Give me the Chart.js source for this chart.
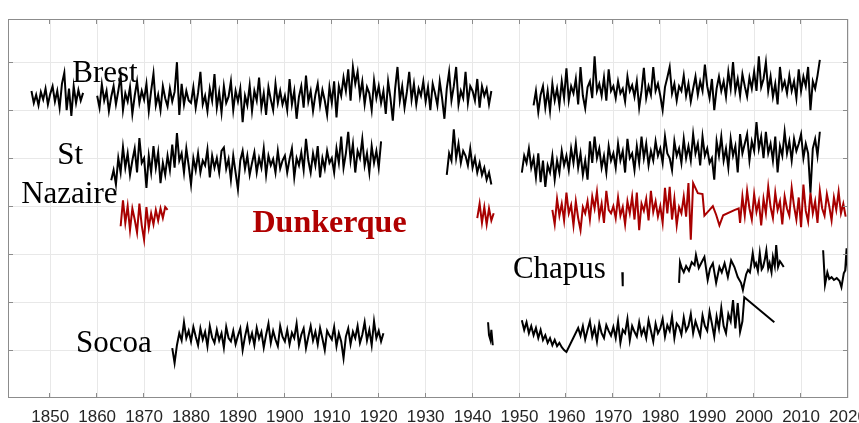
<!DOCTYPE html>
<html>
<head>
<meta charset="utf-8">
<script src="https://cdn.jsdelivr.net/npm/chart.js@4/dist/chart.umd.min.js"></script>
<style>
  html, body { margin: 0; padding: 0; background: #ffffff; }
  #wrap { width: 859px; height: 423px; position: relative; }
</style>
</head>
<body>
<div id="wrap"><canvas id="c"></canvas></div>
<script>
// ---- Axis ticks ----
const yearTicks = [1850, 1860, 1870, 1880, 1890, 1900, 1910, 1920, 1930, 1940, 1950, 1960, 1970, 1980, 1990, 2000, 2010, 2020];
const levelTicks = [100, 200, 300, 400, 500, 600, 700];

// ---- Station labels ----
const labelTexts  = ['Brest', 'St', 'Nazaire', 'Dunkerque', 'Chapus', 'Socoa'];
const labelYears  = [1854.7, 1851.5, 1843.8, 1893.1, 1948.6, 1855.5];
const labelLevels = [658, 487, 406, 346, 250, 96];
const labelRed    = [false, false, false, true, false, false];

// ---- Series values (offset levels, half-year steps from the start year) ----
const brest1846 = [640,615,632,610,638,622,645,612,634,650,618,640,605,655,678,600,645,588,650,615,642,620,636];
const brest1860 = [
  630,605,654,620,640,598,628,650,612,640,672,600,635,618,648,592,630,660,615,640,
  622,655,598,640,676,610,632,600,650,625,608,645,618,638,700,590,655,612,640,620,
  615,648,605,636,680,612,630,598,645,620,675,605,638,595,650,615,628,660,600,640,
  618,645,575,630,610,652,598,640,620,668,605,635,590,648,622,600,655,615,640,612,
  630,600,665,612,640,582,628,650,605,672,618,640,598,632,655,610,642,620,590,648,
  615,660,585,650,630,668,640,685,620,690,655,680,630,660,612,648,635,600,662,625,
  650,615,640,592,660,625,578,645,690,620,650,605,638,680,622,655,612,645,630,660,
  618,648,600,655,635,610,660,625,582,645,680,620,650,690,612,640,625,680,615,650,
  640,620,665,605,650,630,645,612,640];
const brest1953 = [
  610,640,596,632,650,605,640,598,655,620,645,610,660,625,
  687,620,650,635,665,612,690,630,604,648,660,625,712,640,655,630,668,620,685,640,
  650,625,660,635,645,618,670,640,652,628,660,605,640,688,625,650,632,690,640,655,
  630,600,648,668,690,635,655,620,650,640,672,630,655,618,645,670,632,660,640,695,
  650,625,665,600,645,670,640,660,628,680,645,700,640,665,630,675,650,628,668,645,
  680,640,712,648,665,700,640,670,628,655,612,690,645,660,635,672,640,660,625,685,
  640,670,650,690,600,660,645,672,705];

const nazaire1863 = [
  454,475,445,500,470,523,480,510,465,495,520,470,542,490,
  500,438,505,470,525,480,512,448,490,465,505,475,528,480,552,495,510,470,520,485,
  445,500,475,510,470,495,485,518,460,505,480,500,470,515,522,478,498,455,505,470,
  435,495,515,478,505,465,490,512,470,500,480,520,465,505,485,498,470,515,478,495,
  505,470,498,520,460,500,485,512,475,540,495,470,510,485,525,460,500,478,515,490,
  500,470,520,490,545,480,510,555,495,530,470,515,500,540,485,510,470,525,490,515,
  480,535];
const nazaire1934 = [465,510,495,560,500,530,490,515,505,485,520,480,500,470,490,465,480,455,470,445];
const nazaire1950 = [
  470,505,490,520,480,500,460,510,450,495,440,485,470,505,455,495,470,515,485,
  505,475,520,490,530,480,510,465,495,455,535,490,545,500,520,480,505,470,525,495,
  510,480,530,495,515,470,540,500,510,475,525,490,545,500,530,485,515,495,535,505,
  520,490,545,510,500,475,535,505,520,490,540,500,525,495,550,510,530,485,545,505,
  520,490,500,455,535,505,545,495,520,480,540,505,525,470,550,510,530,550,495,535,
  515,575,520,545,500,555,510,530,495,545,470,525,505,555,510,535,495,540,515,530,
  550,500,530,510,428,520,540,505,555];

const dunkerque1865 = [358,412,365,400,350,395,372,345,405,360,330,398,355,385,362,392,370,395,375,398,392];
const dunkerque1941 = [375,405,365,398,362,395,370,385];
const dunkerque1957 = [
  392,362,415,380,405,370,
  428,385,402,360,410,375,350,398,385,410,372,420,395,430,378,405,365,432,392,385,
  400,375,418,380,398,362,410,385,420,372,428,350,405,390,415,370,432,388,410,378,
  400,365,438,385,440,372,415,360,398,385,420,378,448,330,448];
const dunkerqueSparse = [[1988.0,427],[1989.0,425],[1989.4,380],[1990.5,392],[1991.2,400],[1991.9,382],[1992.6,360],[1993.4,381],[1995.9,392],[1996.7,395]];
const dunkerque1997 = [
  365,420,380,432,395,372,425,388,410,360,
  415,385,440,398,375,428,392,410,362,420,
  395,380,438,400,372,418,356,445,390,368,
  428,385,410,365,432,395,380,425,400,370,
  418,392,430,385,405,378];

const chapus1972 = [[1971.9,262],[1972.0,233]];
const chapus1984 = [[1984.0,240],[1984.2,283],[1984.6,270],[1985.0,262],[1985.5,275],[1986.1,265],[1986.7,283],[1987.3,277],[1987.6,298],[1988.2,271],[1988.7,281],[1989.4,294],[1990.1,246],[1990.6,270],[1991.2,281],[1991.9,240],[1992.6,273],[1993.1,262],[1993.7,281],[1994.4,252],[1995.1,287],[1995.8,273],[1996.5,252],[1997.2,240],[1997.6,225],[1997.9,240],[1998.3,258],[1998.7,267],[1999.1,262],[1999.4,281],[1999.7,302],[2000.1,275],[2000.4,281],[2000.8,265],[2001.2,302],[2001.6,268],[2001.9,273],[2002.3,290],[2002.6,308],[2003.0,270],[2003.3,281],[2003.7,262],[2004.0,294],[2004.4,275],[2004.7,319],[2005.1,273],[2005.5,285],[2005.8,281],[2006.3,273]];
const chapus2014 = [[2014.7,308],[2015.1,236],[2015.6,262],[2016.0,248],[2016.5,252],[2017.0,246],[2017.6,250],[2018.2,244],[2018.6,231],[2019.1,260],[2019.4,266],[2019.7,312],[2020.0,262]];

const socoa1876 = [
  104,73,110,135,120,158,125,140,
  118,148,128,110,145,122,138,108,150,126,115,142,120,135,105,148,125,118,140,112,
  130,145,100,128,150,118,135,110,146,124,138,105,132,155,115,140,122,108,150,128,
  118,142,112,136,125,155,110,132,145,104,128,150,120,138,112,146,124,100,140,130,
  122,148,108,135,118,83,128,145,112,138,125,150,115,132,158,120,142,110,160,125,
  140,118,135];
const socoa1943 = [[1943.3,158],[1943.5,131],[1943.8,121],[1944.0,142],[1944.3,110]];
const socoa1950 = [162,142,158,135,150,131,146,125,142,121,131,115,125,110,121,108,115,106,100,96];
const socoa1962 = [
  146,130,150,122,142,160,128,146,118,155,135,125,152,140,130,
  148,125,160,115,142,135,165,120,150,138,128,158,132,145,125,162,140,118,155,135,
  145,165,128,152,140,170,125,155,148,132,168,140,150,175,135,160,145,130,172,150,
  140,180,155,128,170,145,188,150,135,175,160,204,145,198,138,160];
const socoaTail = [[1997.9,210],[2004.3,158]];

// ---- Build point lists (runs separated by a null point) ----
function run(start, vals) { return vals.map((v, i) => ({ x: start + i * 0.5, y: v })); }
function pairs(arr) { return arr.map(p => ({ x: p[0], y: p[1] })); }
function series(...runs) {
  const out = [];
  runs.forEach((r, k) => {
    if (k > 0) out.push({ x: (out[out.length - 1].x + r[0].x) / 2, y: null });
    out.push(...r);
  });
  return out;
}

const brestData = series(run(1846, brest1846), run(1860, brest1860), run(1953, brest1953));
const nazaireData = series(run(1863, nazaire1863), run(1934.5, nazaire1934), run(1950.5, nazaire1950));
const dunkerqueData = series(run(1865, dunkerque1865), run(1941, dunkerque1941),
  [...run(1957, dunkerque1957), ...pairs(dunkerqueSparse), ...run(1997, dunkerque1997)]);
const chapusData = series(pairs(chapus1972), pairs(chapus1984), pairs(chapus2014));
const socoaData = series(run(1876, socoa1876), pairs(socoa1943),
  [...run(1950.5, socoa1950), ...run(1962.5, socoa1962), ...pairs(socoaTail)]);

const BLACK = '#000000';
const RED = '#a80000';
const FRAME = '#8c8c8c';

function ds(data, color) {
  return { data, borderColor: color, borderWidth: 2, pointRadius: 0, tension: 0, spanGaps: false, fill: false };
}

const decor = {
  id: 'decor',
  afterDatasetsDraw(chart) {
    const { ctx, chartArea: a, scales: { x, y } } = chart;
    ctx.save();
    ctx.textBaseline = 'alphabetic';
    ctx.textAlign = 'left';
    labelTexts.forEach((t, i) => {
      ctx.font = labelRed[i] ? 'bold 32px "Liberation Serif", "Times New Roman", serif' : '31px "Liberation Serif", "Times New Roman", serif';
      ctx.fillStyle = labelRed[i] ? '#b00000' : '#000000';
      ctx.fillText(t, x.getPixelForValue(labelYears[i]), y.getPixelForValue(labelLevels[i]));
    });
    ctx.strokeStyle = FRAME;
    ctx.lineWidth = 1;
    ctx.strokeRect(a.left + 0.5, a.top + 0.5, a.right - a.left - 1, a.bottom - a.top - 1);
    ctx.beginPath();
    yearTicks.forEach(v => {
      const px = Math.round(x.getPixelForValue(v)) - 0.5;
      ctx.moveTo(px, a.bottom); ctx.lineTo(px, a.bottom - 5);
      ctx.moveTo(px, a.top); ctx.lineTo(px, a.top + 5);
    });
    levelTicks.forEach(v => {
      const py = Math.round(y.getPixelForValue(v)) + 0.5;
      ctx.moveTo(a.left, py); ctx.lineTo(a.left + 5, py);
      ctx.moveTo(a.right, py); ctx.lineTo(a.right - 5, py);
    });
    ctx.stroke();
    ctx.restore();
  }
};

new Chart(document.getElementById('c'), {
  type: 'line',
  data: {
    datasets: [
      ds(brestData, BLACK),
      ds(nazaireData, BLACK),
      ds(dunkerqueData, RED),
      ds(chapusData, BLACK),
      ds(socoaData, BLACK)
    ]
  },
  options: {
    responsive: true,
    maintainAspectRatio: false,
    animation: false,
    parsing: false,
    layout: { padding: { left: 8, top: 19, right: 11, bottom: 0 } },
    plugins: { legend: { display: false }, tooltip: { enabled: false }, title: { display: false } },
    scales: {
      x: {
        type: 'linear',
        min: 1841,
        max: 2020,
        afterBuildTicks: s => { s.ticks = yearTicks.map(v => ({ value: v })); },
        afterFit: s => { s.height = 25; s.paddingLeft = 0; s.paddingRight = 0; },
        grid: { color: '#e8e8e8', lineWidth: 1, drawTicks: false },
        border: { display: false },
        ticks: {
          padding: 9,
          maxRotation: 0,
          autoSkip: false,
          color: '#262626',
          font: { family: '"Liberation Sans", Arial, Helvetica, sans-serif', size: 17 },
          callback: v => String(v)
        }
      },
      y: {
        type: 'linear',
        min: 0,
        max: 790,
        afterBuildTicks: s => { s.ticks = levelTicks.map(v => ({ value: v })); },
        afterFit: s => { s.width = 0; s.paddingTop = 0; s.paddingBottom = 0; },
        grid: { color: '#e8e8e8', lineWidth: 1, drawTicks: false },
        border: { display: false },
        ticks: { display: false }
      }
    }
  },
  plugins: [decor]
});
</script>
</body>
</html>
